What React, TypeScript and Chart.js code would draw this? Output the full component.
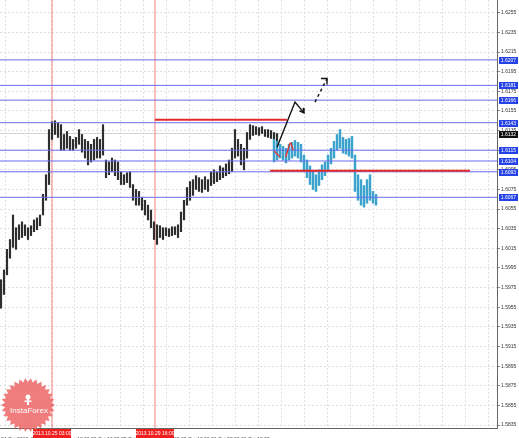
import React, { useEffect, useRef } from 'react';
import { Chart, registerables } from 'chart.js';
Chart.register(...registerables);

// ---- axis ranges ----
const X_MIN = -1 / 3;
const X_MAX = 165 + 1 / 3;
const Y_MIN = 1.5832;
const Y_MAX = 1.6268;

// ---- price history (black bars), index from 0 ----
const blackStart = 0;
const blackHigh = [
  1.5983, 1.5993, 1.6014, 1.6024, 1.6049, 1.6036, 1.6039, 1.6042, 1.6039, 1.6036,
  1.6038, 1.6044, 1.6046, 1.6049, 1.6070, 1.6090, 1.6136, 1.6144, 1.6145, 1.6143,
  1.6141, 1.6131, 1.6134, 1.6129, 1.6126, 1.6128, 1.6136, 1.6131, 1.6126, 1.6124,
  1.6121, 1.6126, 1.6128, 1.6126, 1.6141, 1.6105, 1.6103, 1.6107, 1.6105, 1.6103,
  1.6093, 1.6090, 1.6092, 1.6093, 1.6080, 1.6075, 1.6073, 1.6067, 1.6064, 1.6059,
  1.6054, 1.6042, 1.6039, 1.6038, 1.6036, 1.6036, 1.6035, 1.6037, 1.6037, 1.6039,
  1.6052, 1.6064, 1.6077, 1.6083, 1.6085, 1.6089, 1.6087, 1.6085, 1.6088, 1.6085,
  1.6093, 1.6095, 1.6093, 1.6099, 1.6097, 1.6101, 1.6105, 1.6117, 1.6136, 1.6126,
  1.6121, 1.6117, 1.6133, 1.6141, 1.6140, 1.6139, 1.6138, 1.6139, 1.6136, 1.6136,
  1.6135, 1.6133, 1.6132,
];
const blackLow = [
  1.5954, 1.5968, 1.5988, 1.6005, 1.6016, 1.6014, 1.6024, 1.6026, 1.6028, 1.6024,
  1.6028, 1.6032, 1.6034, 1.6038, 1.6049, 1.6064, 1.6080, 1.6126, 1.6131, 1.6128,
  1.6115, 1.6115, 1.6117, 1.6115, 1.6115, 1.6117, 1.6121, 1.6113, 1.6107, 1.6100,
  1.6103, 1.6105, 1.6107, 1.6107, 1.6110, 1.6087, 1.6090, 1.6093, 1.6089, 1.6085,
  1.6080, 1.6080, 1.6082, 1.6077, 1.6064, 1.6059, 1.6059, 1.6054, 1.6049, 1.6044,
  1.6036, 1.6024, 1.6019, 1.6026, 1.6024, 1.6028, 1.6027, 1.6028, 1.6029, 1.6026,
  1.6032, 1.6044, 1.6059, 1.6064, 1.6069, 1.6075, 1.6073, 1.6072, 1.6075, 1.6073,
  1.6079, 1.6081, 1.6083, 1.6085, 1.6087, 1.6089, 1.6091, 1.6093, 1.6107, 1.6109,
  1.6100, 1.6095, 1.6107, 1.6126, 1.6130, 1.6131, 1.6130, 1.6132, 1.6129, 1.6128,
  1.6127, 1.6126, 1.6124,
];

// ---- analog pattern (blue bars), index from 91 ----
const blueStart = 91;
const blueHigh = [
  1.6126, 1.6124, 1.6121, 1.6119, 1.6117, 1.6121, 1.6123, 1.6125, 1.6123, 1.6121,
  1.6110, 1.6105, 1.6099, 1.6093, 1.6090, 1.6095, 1.6100, 1.6103, 1.6110, 1.6117,
  1.6124, 1.6131, 1.6136, 1.6128, 1.6126, 1.6127, 1.6129, 1.6110, 1.6090, 1.6085,
  1.6079, 1.6085, 1.6090, 1.6073, 1.6070,
];
const blueLow = [
  1.6103, 1.6105, 1.6107, 1.6105, 1.6102, 1.6105, 1.6107, 1.6109, 1.6107, 1.6103,
  1.6093, 1.6087, 1.6080, 1.6075, 1.6073, 1.6079, 1.6085, 1.6089, 1.6095, 1.6101,
  1.6107, 1.6115, 1.6117, 1.6112, 1.6111, 1.6109, 1.6107, 1.6073, 1.6064, 1.6059,
  1.6057, 1.6061, 1.6064, 1.6061, 1.6059,
];

// ---- axis ticks ----
const priceTicks = [
  1.5835, 1.5855, 1.5875, 1.5895, 1.5915, 1.5935, 1.5955, 1.5975, 1.5995, 1.6015, 1.6035,
  1.6055, 1.6075, 1.6095, 1.6115, 1.6135, 1.6155, 1.6175, 1.6195, 1.6215, 1.6235, 1.6255,
];
const timeTickIdx = [0, 10, 20, 30, 40, 50, 60, 70, 80];
const timeTickLabels = [
  '24 Oct 2013', '25 Oct 02:00', '25 Oct 18:00', '26 Oct 10:00', '29 Oct 02:00',
  '29 Oct 18:00', '30 Oct 10:00', '31 Oct 02:00', '31 Oct 18:00',
];

// ---- levels and objects ----
const blueLevels = [1.6207, 1.6181, 1.6166, 1.6143, 1.6115, 1.6104, 1.6093, 1.6067];
const currentPrice = 1.6132;
const redSegFrom = [51.33, 89.7];
const redSegTo = [95.3, 156.3];
const redSegPrice = [1.6146, 1.6094];
const vLineIdx = [17, 51.33];
const vLineLabels = ['2013.10.25 03:00', '2013.10.29 16:00'];

const arrowSolidX = [92, 98, 101];
const arrowSolidY = [1.6118, 1.6164, 1.6153];
const arrowSolidHeadX = [100.73, 101, 99.47];
const arrowSolidHeadY = [1.6158, 1.6153, 1.6155];
const arrowDashX = [104.67, 108.67];
const arrowDashY = [1.6164, 1.6188];
const arrowDashHeadX = [106.67, 108.67, 108.67];
const arrowDashHeadY = [1.6188, 1.6188, 1.6182];
const redZig1X = [91.1, 92.97];
const redZig1Y = [1.6114, 1.6108];
const redZig2X = [94.9, 96.3, 96.67, 97.4];
const redZig2Y = [1.6108, 1.6122, 1.6122, 1.6115];

const FONT = '"Liberation Sans", Arial, sans-serif';

const zip = (xs: number[], ys: number[]) => xs.map((x, i) => ({ x, y: ys[i] }));

const overlayPlugin = {
  id: 'overlay',
  beforeDraw(chart: any) {
    const { ctx, width, height } = chart;
    ctx.save();
    ctx.fillStyle = '#ffffff';
    ctx.fillRect(0, 0, width, height);
    ctx.restore();
  },
  afterDraw(chart: any) {
    const { ctx, chartArea } = chart;
    const x = chart.scales.x;
    const y = chart.scales.y;
    ctx.save();
    ctx.font = `5px ${FONT}`;
    ctx.textAlign = 'center';
    ctx.textBaseline = 'middle';
    blueLevels.forEach((p) => {
      const py = Math.round(y.getPixelForValue(p));
      ctx.fillStyle = '#2442e6';
      ctx.fillRect(chartArea.right + 2, py - 3, 19, 7);
      ctx.fillStyle = '#ffffff';
      ctx.fillText(p.toFixed(4), chartArea.right + 11.5, py + 0.5);
    });
    const cy = Math.round(y.getPixelForValue(currentPrice));
    ctx.fillStyle = '#111111';
    ctx.fillRect(chartArea.right + 2, cy - 3, 19, 7);
    ctx.fillStyle = '#ffffff';
    ctx.fillText(currentPrice.toFixed(4), chartArea.right + 11.5, cy + 0.5);

    vLineIdx.forEach((v, k) => {
      const px = x.getPixelForValue(v);
      ctx.fillStyle = '#f01e1e';
      ctx.fillRect(px - 19, chartArea.bottom + 1, 38, 9);
      ctx.fillStyle = '#ffffff';
      ctx.fillText(vLineLabels[k], px, chartArea.bottom + 5.5);
    });

    // InstaForex watermark
    const cx = 28, cyy = 405, rIn = 23, rOut = 27, n = 30;
    ctx.beginPath();
    for (let i = 0; i <= n * 2; i++) {
      const a = (i / (n * 2)) * Math.PI * 2;
      const r = i % 2 === 0 ? rOut : rIn;
      const px = cx + Math.cos(a) * r;
      const py = cyy + Math.sin(a) * r;
      if (i === 0) ctx.moveTo(px, py);
      else ctx.lineTo(px, py);
    }
    ctx.closePath();
    ctx.fillStyle = 'rgba(236,96,96,0.82)';
    ctx.fill();
    ctx.fillStyle = '#ffffff';
    ctx.beginPath();
    ctx.arc(cx, cyy - 8, 2.5, 0, Math.PI * 2);
    ctx.fill();
    ctx.fillRect(cx - 1, cyy - 6, 2, 6);
    ctx.fillRect(cx - 3.5, cyy - 4.5, 7, 1.5);
    ctx.font = `8px ${FONT}`;
    ctx.fillText('InstaForex', cx + 1, cyy + 6);
    ctx.restore();
  },
};

export default function App() {
  const ref = useRef<HTMLCanvasElement>(null);
  useEffect(() => {
    if (!ref.current) return;
    const blackBars = blackHigh.map((h, i) => ({ x: blackStart + i, y: [blackLow[i], h] }));
    const blueBars = blueHigh.map((h, i) => ({ x: blueStart + i, y: [blueLow[i], h] }));
    const lineBase = { type: 'line', pointRadius: 0, fill: false, tension: 0 } as any;
    const datasets: any[] = [];
    blueLevels.forEach((p) => {
      datasets.push({ ...lineBase, data: [{ x: X_MIN, y: p }, { x: X_MAX, y: p }], borderColor: '#6c6cf0', borderWidth: 1, order: 5 });
    });
    datasets.push({ ...lineBase, data: [{ x: X_MIN, y: currentPrice }, { x: X_MAX, y: currentPrice }], borderColor: '#d4d4d4', borderWidth: 1, order: 9 });
    vLineIdx.forEach((v) => {
      datasets.push({ ...lineBase, data: [{ x: v, y: Y_MIN }, { x: v, y: Y_MAX }], borderColor: '#f28080', borderWidth: 1, order: 8 });
    });
    datasets.push({ type: 'bar', data: blackBars, backgroundColor: '#2e2e2e', barThickness: 1.5, grouped: false, order: 7 });
    datasets.push({ type: 'bar', data: blueBars, backgroundColor: '#3ba3cc', barThickness: 1.8, grouped: false, order: 6 });
    redSegPrice.forEach((p, k) => {
      datasets.push({ ...lineBase, data: [{ x: redSegFrom[k], y: p }, { x: redSegTo[k], y: p }], borderColor: '#e02a2a', borderWidth: 2, order: 4 });
    });
    datasets.push({ ...lineBase, data: zip(redZig1X, redZig1Y), borderColor: '#e83030', borderWidth: 1.3, order: 3 });
    datasets.push({ ...lineBase, data: zip(redZig2X, redZig2Y), borderColor: '#e83030', borderWidth: 1.3, order: 3 });
    datasets.push({ ...lineBase, data: zip(arrowSolidX, arrowSolidY), borderColor: '#111111', borderWidth: 1.4, order: 1 });
    datasets.push({ ...lineBase, data: zip(arrowSolidHeadX, arrowSolidHeadY), borderColor: '#111111', borderWidth: 1.4, order: 1 });
    datasets.push({ ...lineBase, data: zip(arrowDashX, arrowDashY), borderColor: '#111111', borderWidth: 1.4, borderDash: [3, 3], order: 1 });
    datasets.push({ ...lineBase, data: zip(arrowDashHeadX, arrowDashHeadY), borderColor: '#111111', borderWidth: 1.4, order: 1 });

    const gridTicks: number[] = [];
    for (let v = 16 / 3; v < X_MAX; v += 23 / 3) gridTicks.push(v);

    const chart = new Chart(ref.current, {
      type: 'bar',
      data: { datasets },
      plugins: [overlayPlugin],
      options: {
        animation: false,
        responsive: false,
        devicePixelRatio: 1,
        layout: { padding: 0 },
        plugins: { legend: { display: false }, tooltip: { enabled: false } },
        scales: {
          x: {
            type: 'linear',
            position: 'bottom',
            min: X_MIN,
            max: X_MAX,
            offset: false,
            grid: { display: false },
            border: { color: '#666666', width: 1 },
            afterBuildTicks: (s: any) => {
              s.ticks = timeTickIdx.map((v) => ({ value: v }));
            },
            afterFit: (s: any) => {
              s.height = 10;
              s.paddingLeft = 0;
              s.paddingRight = 0;
            },
            ticks: {
              autoSkip: false,
              maxRotation: 0,
              minRotation: 0,
              align: 'start',
              padding: 1,
              color: '#333333',
              font: { size: 5, family: FONT },
              callback: (v: any) => {
                const k = timeTickIdx.indexOf(Number(v));
                return k >= 0 ? timeTickLabels[k] : '';
              },
            },
          },
          xg: {
            type: 'linear',
            axis: 'x',
            position: 'bottom',
            min: X_MIN,
            max: X_MAX,
            offset: false,
            ticks: { display: false },
            grid: { color: '#e0e0e0', drawTicks: false, lineWidth: 1 },
            border: { display: false, dash: [2, 2] },
            afterBuildTicks: (s: any) => {
              s.ticks = gridTicks.map((v) => ({ value: v }));
            },
            afterFit: (s: any) => {
              s.height = 0;
              s.paddingLeft = 0;
              s.paddingRight = 0;
            },
          },
          y: {
            type: 'linear',
            position: 'right',
            min: Y_MIN,
            max: Y_MAX,
            grid: { color: '#dedede', tickLength: 3, tickColor: '#888888', lineWidth: 1 },
            border: { color: '#666666', width: 1, dash: [2, 2] },
            afterBuildTicks: (s: any) => {
              s.ticks = priceTicks.map((v) => ({ value: v }));
            },
            afterFit: (s: any) => {
              s.width = 22;
              s.paddingTop = 0;
              s.paddingBottom = 0;
            },
            ticks: {
              padding: 1,
              color: '#333333',
              font: { size: 5, family: FONT },
              callback: (v: any) => Number(v).toFixed(4),
            },
          },
        },
      } as any,
    });
    return () => chart.destroy();
  }, []);

  return (
    <div style={{ position: 'absolute', left: 0, top: 0, width: 519, height: 438, background: '#fff' }}>
      <canvas ref={ref} width={519} height={438} style={{ display: 'block' }} />
    </div>
  );
}
